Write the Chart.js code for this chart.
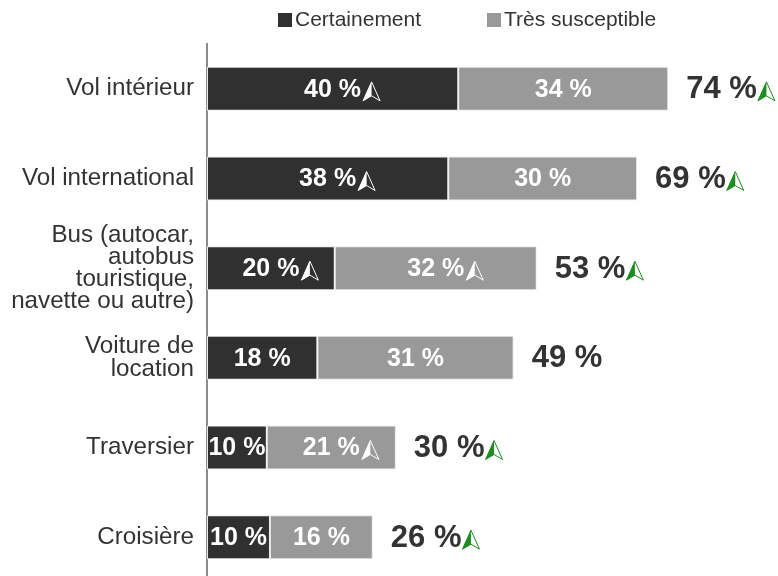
<!DOCTYPE html>
<html>
<head>
<meta charset="utf-8">
<script src="https://cdn.jsdelivr.net/npm/chart.js@4"></script>
<style>
  html, body { margin: 0; padding: 0; background: #fff; overflow: hidden; }
  #wrap { width: 778px; height: 582px; position: relative; }
</style>
</head>
<body>
<div id="wrap"><canvas id="c" width="778" height="582"></canvas></div>
<script>
// ---- data ----
const categories = [
  "Vol intérieur",
  "Vol international",
  ["Bus (autocar,", "autobus", "touristique,", "navette ou autre)"],
  ["Voiture de", "location"],
  "Traversier",
  "Croisière"
];
const seriesNames = ["Certainement", "Très susceptible"];
const certainement = [40.3, 38.7, 20.5, 17.7, 9.6, 10.1];
const tresSusceptible = [33.7, 30.3, 32.4, 31.5, 20.7, 16.5];
const certainementLabels = ["40 %", "38 %", "20 %", "18 %", "10 %", "10 %"];
const tresSusceptibleLabels = ["34 %", "30 %", "32 %", "31 %", "21 %", "16 %"];
const totalLabels = ["74 %", "69 %", "53 %", "49 %", "30 %", "26 %"];
const certainementUp = [true, true, true, false, false, false];
const tresSusceptibleUp = [false, false, true, false, true, false];
const totalUp = [true, true, true, false, true, true];

const DARK = "#303030";
const GRAY = "#999999";
const TEXT = "#333333";
const GREEN = "#1e8c1e";
const FONT = "'Liberation Sans', Arial, sans-serif";

function drawArrow(ctx, x, yBottom, color) {
  // navigation arrow: left half filled, right half outlined
  const w = 17, h = 19, notch = 5;
  const cx = x + w / 2;
  const top = yBottom - h;
  ctx.save();
  ctx.fillStyle = color;
  ctx.strokeStyle = color;
  ctx.lineWidth = 1;
  ctx.lineJoin = "miter";
  ctx.beginPath();
  ctx.moveTo(cx, top);
  ctx.lineTo(x, yBottom);
  ctx.lineTo(cx, yBottom - notch);
  ctx.closePath();
  ctx.fill();
  ctx.beginPath();
  ctx.moveTo(cx, top);
  ctx.lineTo(x + w, yBottom);
  ctx.lineTo(cx, yBottom - notch);
  ctx.lineTo(x, yBottom);
  ctx.closePath();
  ctx.stroke();
  ctx.restore();
}

const labelPlugin = {
  id: "labels",
  afterDatasetsDraw(chart) {
    const ctx = chart.ctx;
    const segLabels = [certainementLabels, tresSusceptibleLabels];
    const segUp = [certainementUp, tresSusceptibleUp];
    ctx.save();
    ctx.textBaseline = "middle";
    chart.data.datasets.forEach((ds, di) => {
      const meta = chart.getDatasetMeta(di);
      meta.data.forEach((bar, i) => {
        const left = Math.min(bar.base, bar.x);
        const right = Math.max(bar.base, bar.x);
        const cx = (left + right) / 2;
        ctx.font = "bold 25px " + FONT;
        ctx.fillStyle = "#ffffff";
        ctx.textAlign = "center";
        const txt = segLabels[di][i];
        ctx.fillText(txt, cx, bar.y + 1);
        if (segUp[di][i]) {
          const tw = ctx.measureText(txt).width;
          drawArrow(ctx, cx + tw / 2 + 2, bar.y + 12, "#ffffff");
        }
      });
    });
    const last = chart.getDatasetMeta(chart.data.datasets.length - 1);
    last.data.forEach((bar, i) => {
      const x = Math.max(bar.base, bar.x) + 18;
      ctx.font = "bold 31px " + FONT;
      ctx.fillStyle = TEXT;
      ctx.textAlign = "left";
      const txt = totalLabels[i];
      ctx.fillText(txt, x, bar.y + 1);
      if (totalUp[i]) {
        const tw = ctx.measureText(txt).width;
        drawArrow(ctx, x + tw + 1, bar.y + 12, GREEN);
      }
    });
    ctx.restore();
  }
};

const legendPlugin = {
  id: "customLegend",
  afterDraw(chart) {
    const ctx = chart.ctx;
    const items = [
      { x: 278, color: DARK, text: chart.data.datasets[0].label },
      { x: 487, color: GRAY, text: chart.data.datasets[1].label }
    ];
    ctx.save();
    ctx.font = "21px " + FONT;
    ctx.textBaseline = "middle";
    ctx.textAlign = "left";
    items.forEach(it => {
      ctx.fillStyle = it.color;
      ctx.fillRect(it.x, 13, 14, 14);
      ctx.fillStyle = TEXT;
      ctx.fillText(it.text, it.x + 17, 20);
    });
    ctx.restore();
  }
};

new Chart(document.getElementById("c"), {
  type: "bar",
  data: {
    labels: categories,
    datasets: [
      { label: seriesNames[0], data: certainement, backgroundColor: DARK, borderColor: "#e8e8e8", borderWidth: 1, borderSkipped: false },
      { label: seriesNames[1], data: tresSusceptible, backgroundColor: GRAY, borderColor: "#e8e8e8", borderWidth: 1, borderSkipped: false }
    ]
  },
  options: {
    indexAxis: "y",
    responsive: false,
    animation: false,
    devicePixelRatio: 1,
    layout: { padding: { top: 44, right: 10, bottom: 0, left: 0 } },
    datasets: { bar: { categoryPercentage: 1, barPercentage: 0.49 } },
    plugins: { legend: { display: false }, tooltip: { enabled: false } },
    scales: {
      x: { stacked: true, display: false, min: 0, max: 90 },
      y: {
        stacked: true,
        grid: { display: false, drawTicks: false },
        border: { display: true, color: "#8c8c8c", width: 2 },
        ticks: {
          color: TEXT,
          padding: 13,
          autoSkip: false,
          font: { family: FONT, size: 24.2, lineHeight: 0.91 }
        },
        afterFit(scale) {
          scale.width = 207;
          scale.paddingTop = 0;
          scale.paddingBottom = 0;
        }
      }
    }
  },
  plugins: [labelPlugin, legendPlugin]
});
</script>
</body>
</html>
